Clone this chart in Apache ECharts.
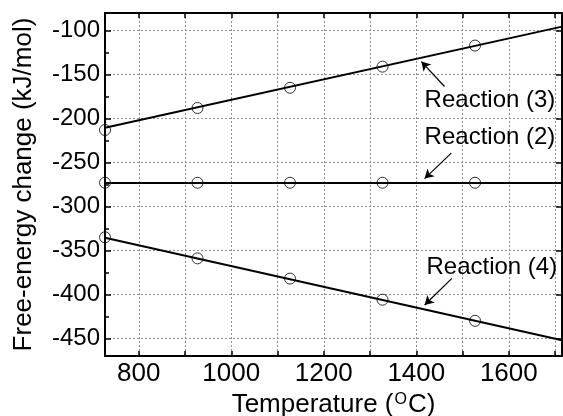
<!DOCTYPE html>
<html>
<head>
<meta charset="utf-8">
<script src="https://cdn.jsdelivr.net/npm/echarts@6/dist/echarts.min.js"></script>
<style>
  html, body { margin: 0; padding: 0; background: #fff; }
  #main { width: 563px; height: 416px; }
</style>
</head>
<body>
<div id="main"></div>
<script>
// measured points (circles)
var temps = [727, 927, 1127, 1327, 1527];
var reaction3 = [-213, -188, -165, -141, -117];
var reaction2 = [-273, -273, -273, -273, -273];
var reaction4 = [-335, -359, -382, -406, -430];

// straight lines drawn over the whole range
var lineTemps = [727, 1715];
var line3 = [-210.5, -95.5];
var line2 = [-273.3, -273.3];
var line4 = [-335.5, -452];

// labels with arrows, in data units
var labelNames = ['Reaction (3)', 'Reaction (2)', 'Reaction (4)'];
var labelAt = [[1418, -179.5], [1418, -221], [1422, -368.7]];
var arrowFrom = [[1461, -163.6], [1475.6, -239.3], [1477, -381.8]];
var arrowTo = [[1411, -135.2], [1418, -268.3], [1418, -412]];

// ticks
var xTicks = [800, 900, 1000, 1100, 1200, 1300, 1400, 1500, 1600, 1700];
var xLabels = [800, 1000, 1200, 1400, 1600];
var yTicks = [-450, -400, -350, -300, -250, -200, -150, -100];
var yMinorTicks = [-425, -375, -325, -275, -225, -175, -125];

var FONT = '"Liberation Sans", Arial, sans-serif';

function pairs(xs, ys) {
    var out = [];
    for (var i = 0; i < xs.length; i++) {
        out.push([xs[i], ys[i]]);
    }
    return out;
}

var myChart = echarts.init(document.getElementById('main'), null, {renderer: 'canvas'});

var gridLine = {show: true, lineStyle: {color: '#8c8c8c', width: 1, type: [2, 2]}};
var blackLine = {show: true, lineStyle: {color: '#000', width: 2}};
var circleStyle = {color: 'rgba(0,0,0,0)', borderColor: '#000', borderWidth: 1};

var option = {
    backgroundColor: '#fff',
    animation: false,
    grid: {left: 105, top: 13, right: 1, bottom: 60, containLabel: false, outerBoundsMode: 'none'},
    xAxis: [
        {
            type: 'value',
            min: 727, max: 1715,
            axisLine: blackLine,
            axisTick: {show: true, inside: true, length: 5, customValues: xTicks, lineStyle: {color: '#000', width: 1.5}},
            axisLabel: {
                show: true, margin: 5, color: '#000', fontSize: 26, fontFamily: FONT,
                customValues: xLabels,
                formatter: function (v) { return String(v); }
            },
            splitLine: gridLine,
            name: 'Temperature ({sup|O}C)',
            nameLocation: 'middle',
            nameGap: 30,
            nameTextStyle: {
                color: '#000', fontSize: 26, fontFamily: FONT,
                rich: {sup: {fontSize: 16, verticalAlign: 'top', lineHeight: 26, padding: [0, 1, 12, 1]}}
            }
        },
        {
            type: 'value',
            position: 'top',
            min: 727, max: 1715,
            axisLine: blackLine,
            axisTick: {show: true, inside: true, length: 5, customValues: xTicks, lineStyle: {color: '#000', width: 1.5}},
            axisLabel: {show: false},
            splitLine: {show: false}
        }
    ],
    yAxis: [
        {
            type: 'value',
            min: -470, max: -80,
            axisLine: blackLine,
            axisTick: {show: true, inside: true, length: 6, customValues: yTicks, lineStyle: {color: '#000', width: 1.5}},
            axisLabel: {
                show: true, margin: 5, color: '#000', fontSize: 24, fontFamily: FONT,
                customValues: yTicks,
                formatter: function (v) { return String(v); }
            },
            splitLine: gridLine,
            name: 'Free-energy change (kJ/mol)',
            nameLocation: 'middle',
            nameGap: 68,
            nameTextStyle: {color: '#000', fontSize: 26, fontFamily: FONT}
        },
        {
            type: 'value',
            position: 'right',
            min: -470, max: -80,
            axisLine: blackLine,
            axisTick: {show: true, inside: true, length: 6, customValues: yTicks, lineStyle: {color: '#000', width: 1.5}},
            axisLabel: {show: false},
            splitLine: {show: false}
        },
        {
            // minor ticks on the left side
            type: 'value',
            position: 'left',
            offset: 0,
            min: -470, max: -80,
            axisLine: {show: false},
            axisTick: {show: true, inside: true, length: 4, customValues: yMinorTicks, lineStyle: {color: '#000', width: 1.5}},
            axisLabel: {show: false},
            splitLine: {show: false}
        }
    ],
    series: [
        {
            type: 'line', data: pairs(lineTemps, line3), symbol: 'none',
            lineStyle: {color: '#000', width: 2},
            markLine: {
                silent: true, symbol: ['none', 'arrow'], symbolSize: [8, 9],
                lineStyle: {color: '#000', width: 1.2, type: 'solid'},
                label: {show: false},
                data: [0, 1, 2].map(function (i) {
                    return [{coord: arrowFrom[i]}, {coord: arrowTo[i]}];
                })
            },
            markPoint: {
                silent: true, symbol: 'circle', symbolSize: 0,
                label: {
                    show: true, position: 'right', distance: 0,
                    color: '#000', fontSize: 24, fontFamily: FONT,
                    formatter: function (p) { return p.name; }
                },
                data: [0, 1, 2].map(function (i) {
                    return {name: labelNames[i], coord: labelAt[i]};
                })
            }
        },
        {type: 'line', data: pairs(lineTemps, line2), symbol: 'none', lineStyle: {color: '#000', width: 2}},
        {type: 'line', data: pairs(lineTemps, line4), symbol: 'none', lineStyle: {color: '#000', width: 2}},
        {type: 'scatter', data: pairs(temps, reaction3), symbolSize: 11, clip: false, itemStyle: circleStyle},
        {type: 'scatter', data: pairs(temps, reaction2), symbolSize: 11, clip: false, itemStyle: circleStyle},
        {type: 'scatter', data: pairs(temps, reaction4), symbolSize: 11, clip: false, itemStyle: circleStyle}
    ]
};

myChart.setOption(option);
</script>
</body>
</html>
